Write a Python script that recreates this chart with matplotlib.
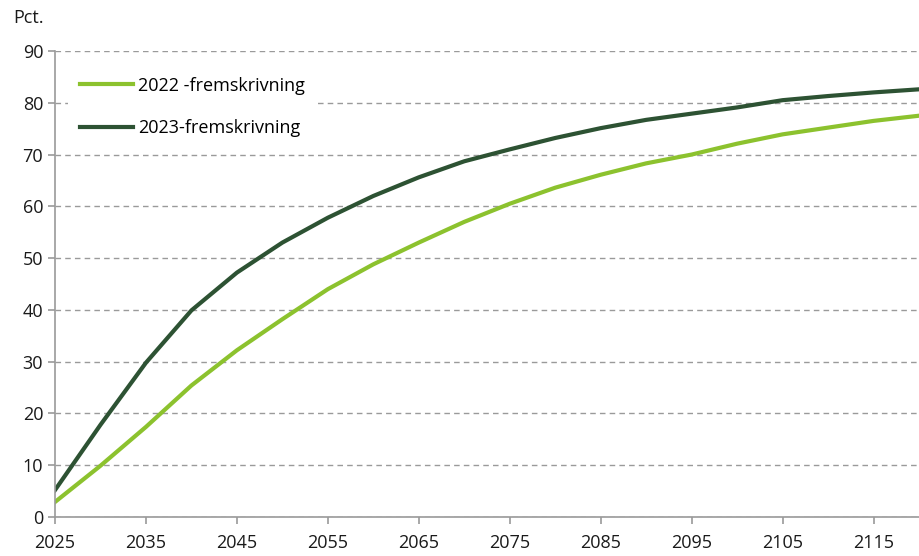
import numpy as np
from matplotlib import pyplot as plt

plt.rcParams['font.family'] = ['Open Sans', 'DejaVu Sans']

years = [2025, 2030, 2035, 2040, 2045, 2050, 2055, 2060, 2065, 2070, 2075,
         2080, 2085, 2090, 2095, 2100, 2105, 2110, 2115, 2120]
proj_2022 = [2.9, 9.9, 17.4, 25.4, 32.2, 38.2, 44.0, 48.8, 53.0, 57.0, 60.5,
             63.6, 66.1, 68.3, 70.0, 72.1, 73.9, 75.2, 76.5, 77.5]
proj_2023 = [5.2, 17.8, 29.8, 39.9, 47.2, 53.0, 57.8, 62.0, 65.6, 68.7, 71.0,
             73.2, 75.1, 76.7, 77.9, 79.1, 80.5, 81.3, 82.0, 82.6]
labels = ['2022 -fremskrivning', '2023-fremskrivning']
xticks = list(range(2025, 2116, 10))
yticks = list(range(0, 91, 10))

grey = '#9a9a9a'
fs = 13

fig = plt.figure(figsize=(9.19, 5.56), dpi=100)
ax = fig.add_axes([55 / 919, 1 - 517 / 556, 1 - 55 / 919, (517 - 51) / 556])

ax.plot(years, proj_2022, color='#8cc22e', lw=3, label=labels[0], solid_joinstyle='round')
ax.plot(years, proj_2023, color='#2d5233', lw=3, label=labels[1], solid_joinstyle='round')

ax.set_xlim(2025, 2120)
ax.set_ylim(0, 90)
ax.set_xticks(xticks)
ax.set_yticks(yticks)
ax.tick_params(colors=grey, labelcolor='#1a1a1a', labelsize=fs, length=5, width=1.2)
ax.tick_params(axis='x', pad=7)
ax.grid(axis='y', color=grey, linestyle=(0, (4, 3)), lw=1)
ax.set_axisbelow(True)

for s in ['top', 'right']:
    ax.spines[s].set_visible(False)
for s in ['left', 'bottom']:
    ax.spines[s].set_color(grey)
    ax.spines[s].set_linewidth(1.2)

fig.text(13 / 919, 1 - 18 / 556, 'Pct.', fontsize=fs, va='center', ha='left', color='#1a1a1a')

leg = ax.legend(loc='upper left', bbox_to_anchor=(0.015, 0.97), frameon=True, fontsize=fs,
                handlelength=2.95, handletextpad=0.28, labelspacing=1.35, borderaxespad=0,
                borderpad=0.65, fancybox=False)
leg.get_frame().set_edgecolor('none')
leg.get_frame().set_facecolor('white')
leg.get_frame().set_alpha(1)

fig.savefig('out.png', dpi=100)
